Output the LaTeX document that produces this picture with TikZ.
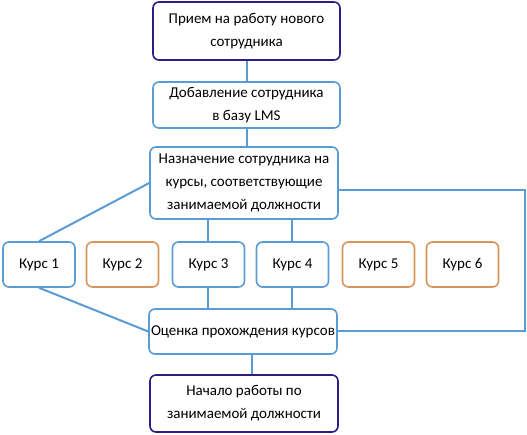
\documentclass[tikz,border=0pt]{standalone}
\usepackage{fontspec}
\setmainfont{Carlito}
\usepackage{xcolor}
\usetikzlibrary{positioning, calc}

\definecolor{lilac}{HTML}{2F1B86}
\definecolor{sky}{HTML}{5B9BD5}
\definecolor{peach}{HTML}{D8955B}

\tikzset{
    stepbox/.style={draw=sky, line width=1.6pt, rounded corners=6pt, fill=white,
        align=center, inner sep=0pt, font=\fontsize{15}{23}\selectfont},
    endbox/.style={stepbox, draw=lilac},
    optbox/.style={stepbox, draw=peach},
    link/.style={draw=sky, line width=2pt},
}

\begin{document}
\begin{tikzpicture}[x=1pt, y=-1pt]
    \useasboundingbox (0,0) rectangle (527,435);

    % этапы
    \node[endbox, minimum width=187pt, minimum height=58pt] (hire) at (246.5, 31) {Прием на работу нового\\сотрудника};
    \node[stepbox, minimum width=187pt, minimum height=46pt] (lms) at (246.5, 105) {Добавление сотрудника\\в базу LMS};
    \node[stepbox, minimum width=188pt, minimum height=72pt] (assign) at (244, 183) {Назначение сотрудника на\\курсы, соответствующие\\занимаемой должности};

    % курсы
    \node[stepbox, minimum width=72pt, minimum height=45pt] (k1) at (39, 264.5) {Курс 1};
    \node[optbox, minimum width=72pt, minimum height=45pt] (k2) at (122.5, 264.5) {Курс 2};
    \node[stepbox, minimum width=72pt, minimum height=45pt] (k3) at (208.5, 264.5) {Курс 3};
    \node[stepbox, minimum width=72pt, minimum height=45pt] (k4) at (292.5, 264.5) {Курс 4};
    \node[optbox, minimum width=72pt, minimum height=45pt] (k5) at (378.5, 264.5) {Курс 5};
    \node[optbox, minimum width=72pt, minimum height=45pt] (k6) at (462.5, 264.5) {Курс 6};

    \node[stepbox, minimum width=188pt, minimum height=45pt] (eval) at (243, 331.5) {Оценка прохождения курсов};
    \node[endbox, minimum width=188pt, minimum height=57pt] (start) at (244, 403.5) {Начало работы по\\занимаемой должности};

    \coordinate (edge) at (525, 0);

    % связи
    \draw[link] (hire) -- (lms);
    \draw[link] (lms.south) -- (lms.south |- assign.north);
    \draw[link] (assign.west) -- (k1.north);
    \draw[link] ([xshift=-1pt]k3.north) -- ([xshift=-1pt]k3.north |- assign.south);
    \draw[link] ([xshift=-1pt]k4.north) -- ([xshift=-1pt]k4.north |- assign.south);
    \draw[link] (k1.south) -- (eval.west);
    \draw[link] ([xshift=-1pt]k3.south) -- ([xshift=-1pt]k3.south |- eval.north);
    \draw[link] ([xshift=-1pt]k4.south) -- ([xshift=-1pt]k4.south |- eval.north);
    \draw[link] (eval.east) -- (eval.east -| edge) |- ($(assign.east)+(0,7)$);
    \draw[link] ([xshift=9pt]eval.south) -- ([xshift=9pt]eval.south |- start.north);
\end{tikzpicture}
\end{document}
